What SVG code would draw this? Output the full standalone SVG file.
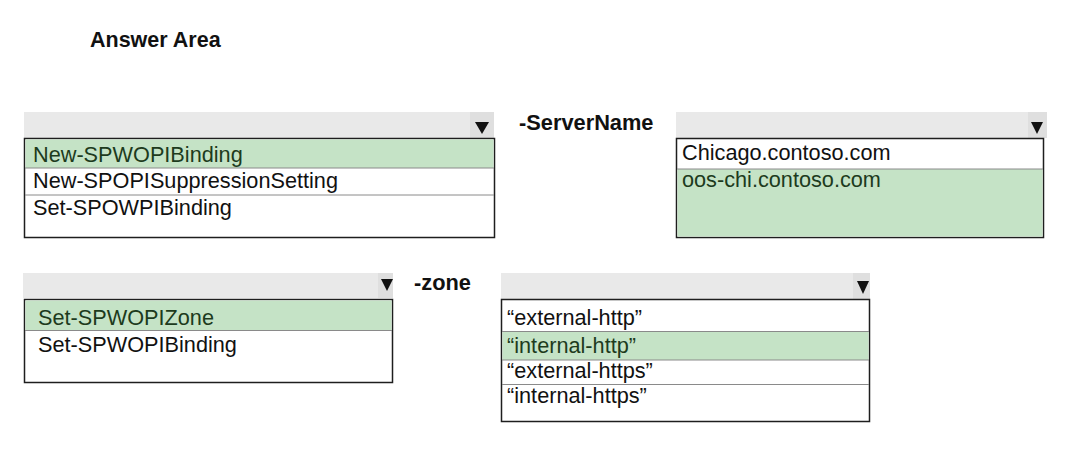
<svg xmlns="http://www.w3.org/2000/svg" width="1068" height="453" viewBox="0 0 1068 453">
<style>
.bg{fill:#ffffff}
.hdr{fill:#e9e9e9}
.btn{fill:#dfdfdf}
.list{fill:#ffffff;stroke:#1e1e1e;stroke-width:1.5}
.sel{fill:#c5e3c6}
.sep{stroke:#8a8a8a;stroke-width:1}
.arr{fill:#111111}
.t{font-family:"Liberation Sans",Arial,sans-serif;font-size:21.7px;fill:#111111}
.ts{font-family:"Liberation Sans",Arial,sans-serif;font-size:21.7px;fill:#1d3b1d}
.lbl{font-family:"Liberation Sans",Arial,sans-serif;font-size:21.8px;font-weight:bold;fill:#111111}
</style>
<rect class="bg" x="0" y="0" width="1068" height="453"/>
<text class="lbl" x="90" y="47" style="font-size:21.5px">Answer Area</text>

<g id="dropdown-cmdlet1">
<rect class="hdr" x="24" y="112" width="470" height="26"/>
<rect class="btn" x="470" y="112" width="24" height="26"/>
<polygon class="arr" points="475,122 489,122 482,134"/>
<rect class="list" x="24.5" y="138.5" width="470" height="99"/>
<rect class="sel" x="25.5" y="139.5" width="468" height="28.5"/>
<line class="sep" x1="25" y1="168" x2="494" y2="168"/>
<line class="sep" x1="25" y1="195" x2="494" y2="195"/>
<text class="ts" x="33" y="162">New-SPWOPIBinding</text>
<text class="t" x="33" y="188">New-SPOPISuppressionSetting</text>
<text class="t" x="33" y="215">Set-SPOWPIBinding</text>
</g>

<g id="label-servername">
<text class="lbl" x="519" y="130">-ServerName</text>
</g>

<g id="dropdown-server">
<rect class="hdr" x="676" y="112" width="371" height="26"/>
<rect class="btn" x="1028" y="112" width="19" height="26"/>
<polygon class="arr" points="1031,122 1043,122 1037,134"/>
<rect class="list" x="676.5" y="138.5" width="367" height="99"/>
<rect class="sel" x="677.5" y="169" width="365" height="67.5"/>
<line class="sep" x1="677" y1="169" x2="1043" y2="169"/>
<text class="t" x="682" y="160">Chicago.contoso.com</text>
<text class="ts" x="682" y="187">oos-chi.contoso.com</text>
</g>

<g id="dropdown-cmdlet2">
<rect class="hdr" x="23" y="273" width="370" height="25"/>
<rect class="btn" x="378" y="273" width="15" height="25"/>
<polygon class="arr" points="381,279 393,279 387,291"/>
<rect class="list" x="24.5" y="299.5" width="368" height="83"/>
<rect class="sel" x="25.5" y="300.5" width="366" height="30"/>
<line class="sep" x1="25" y1="330.5" x2="392" y2="330.5"/>
<text class="ts" x="38" y="325">Set-SPWOPIZone</text>
<text class="t" x="38" y="352">Set-SPWOPIBinding</text>
</g>

<g id="label-zone">
<text class="lbl" x="414" y="290">-zone</text>
</g>

<g id="dropdown-zone">
<rect class="hdr" x="501" y="273" width="369" height="26"/>
<rect class="btn" x="853" y="273" width="17" height="26"/>
<polygon class="arr" points="857,281 869,281 863,294"/>
<rect class="list" x="501.5" y="299.5" width="368" height="122"/>
<rect class="sel" x="502.5" y="331.5" width="366" height="28.5"/>
<line class="sep" x1="502" y1="331.5" x2="869" y2="331.5"/>
<line class="sep" x1="502" y1="360" x2="869" y2="360"/>
<line class="sep" x1="502" y1="384.5" x2="869" y2="384.5"/>
<text class="t" x="507" y="325">“external-http”</text>
<text class="ts" x="507" y="353">“internal-http”</text>
<text class="t" x="507" y="378">“external-https”</text>
<text class="t" x="507" y="403">“internal-https”</text>
</g>
</svg>
